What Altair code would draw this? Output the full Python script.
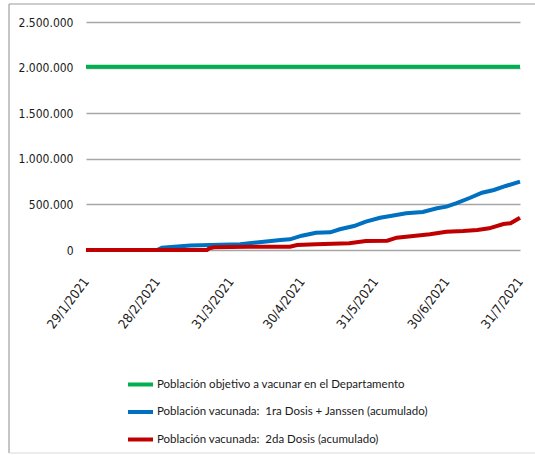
import altair as alt
import pandas as pd

series_names = [
    "Población objetivo a vacunar en el Departamento",
    "Población vacunada: \u00a01ra Dosis + Janssen (acumulado)",
    "Población vacunada: \u00a02da Dosis (acumulado)",
]
series_colors = ["#00B050", "#0070C0", "#C00000"]

green_dates = ["2021-01-29", "2021-07-31"]
green_values = [2010000, 2010000]

blue_dates = ["2021-01-29", "2021-02-28", "2021-03-02", "2021-03-14", "2021-04-04",
              "2021-04-14", "2021-04-21", "2021-04-25", "2021-04-30", "2021-05-06",
              "2021-05-12", "2021-05-16", "2021-05-22", "2021-05-27", "2021-06-02",
              "2021-06-07", "2021-06-13", "2021-06-20", "2021-06-26", "2021-06-30",
              "2021-07-04", "2021-07-10", "2021-07-15", "2021-07-20", "2021-07-25",
              "2021-07-31"]
blue_values = [0, 0, 25000, 49000, 62000,
               91000, 110000, 117000, 157000, 190000,
               194000, 227000, 263000, 311000, 354000,
               376000, 402000, 417000, 457000, 475000,
               512000, 573000, 628000, 658000, 702000,
               749000]

red_dates = ["2021-01-29", "2021-03-21", "2021-03-22", "2021-03-24", "2021-04-07",
             "2021-04-25", "2021-04-28", "2021-05-06", "2021-05-20", "2021-05-27",
             "2021-06-05", "2021-06-09", "2021-06-16", "2021-06-23", "2021-06-30",
             "2021-07-07", "2021-07-13", "2021-07-18", "2021-07-24", "2021-07-27",
             "2021-07-31"]
red_values = [0, 0, 18000, 30000, 36000,
              36000, 55000, 62000, 73000, 99000,
              102000, 135000, 154000, 172000, 201000,
              208000, 219000, 238000, 285000, 293000,
              354000]

y_ticks = [0, 500000, 1000000, 1500000, 2000000, 2500000]
x_tick_dates = [(2021, 1, 29), (2021, 2, 28), (2021, 3, 31), (2021, 4, 30),
                (2021, 5, 31), (2021, 6, 30), (2021, 7, 31)]

rows = []
for name, ds, vs in zip(series_names,
                        [green_dates, blue_dates, red_dates],
                        [green_values, blue_values, red_values]):
    for d, v in zip(ds, vs):
        rows.append({"serie": name, "fecha": d, "valor": v})
df = pd.DataFrame(rows)

FONT = "DejaVu Sans Condensed"
FONT_L = "Lato"

lines = alt.Chart(df).mark_line(strokeWidth=4).encode(
    x=alt.X(
        "fecha:T",
        scale=alt.Scale(
            type="utc",
            domain=[alt.DateTime(year=2021, month=1, date=29, utc=True),
                    alt.DateTime(year=2021, month=7, date=31, utc=True)],
            nice=False,
        ),
        axis=alt.Axis(
            values=[alt.DateTime(year=y, month=m, date=d, utc=True) for y, m, d in x_tick_dates],
            labelExpr="utcFormat(datum.value, '%-d/%-m/%Y')",
            labelAngle=-53,
            labelAlign="right",
            labelBaseline="middle",
            labelPadding=29,
            ticks=False,
            domain=False,
            grid=False,
            title=None,
            labelFont=FONT,
            labelFontSize=13,
            labelColor="#1a1a1a",
            labelOverlap=False,
        ),
    ),
    y=alt.Y(
        "valor:Q",
        scale=alt.Scale(domain=[0, 2500000], nice=False),
        axis=alt.Axis(
            values=y_ticks,
            labelExpr="replace(format(datum.value, ','), regexp(',', 'g'), '.')",
            ticks=False,
            domain=False,
            grid=True,
            gridColor="#a6a6a6",
            gridWidth=1.5,
            title=None,
            labelFont=FONT,
            labelFontSize=12,
            labelColor="#1a1a1a",
            labelPadding=13,
        ),
    ),
    color=alt.Color(
        "serie:N",
        scale=alt.Scale(domain=series_names, range=series_colors),
        sort=series_names,
        legend=alt.Legend(
            title=None,
            orient="none",
            legendX=40,
            legendY=348,
            symbolType="stroke",
            symbolSize=625,
            symbolStrokeWidth=4,
            labelFont=FONT_L,
            labelFontSize=11.5,
            labelColor="#1a1a1a",
            labelOffset=2,
            rowPadding=4.5,
            padding=0,
            labelLimit=400,
        ),
    ),
    order=alt.Order("fecha:T"),
)

frame_data = alt.Data(values=[{"k": 1}])
frame_left = alt.Chart(frame_data).mark_rule(color="#8c8c8c", strokeWidth=1).encode(
    x=alt.value(-77), y=alt.value(-18), y2=alt.value(431)
)
frame_top = alt.Chart(frame_data).mark_rule(color="#9a9a9a", strokeWidth=1).encode(
    x=alt.value(-77), x2=alt.value(460), y=alt.value(-18)
)
frame_bottom = alt.Chart(frame_data).mark_rule(color="#d9d9d9", strokeWidth=1).encode(
    x=alt.value(-77), x2=alt.value(460), y=alt.value(431)
)

chart = alt.layer(frame_left, frame_top, frame_bottom, lines).properties(
    width=434,
    height=228,
    padding={"left": 86, "top": 22, "right": 15, "bottom": 205},
    autosize="none",
    background="white",
).configure_view(stroke=None)

chart.save("out.html", embed_options={"renderer": "svg", "actions": False})
